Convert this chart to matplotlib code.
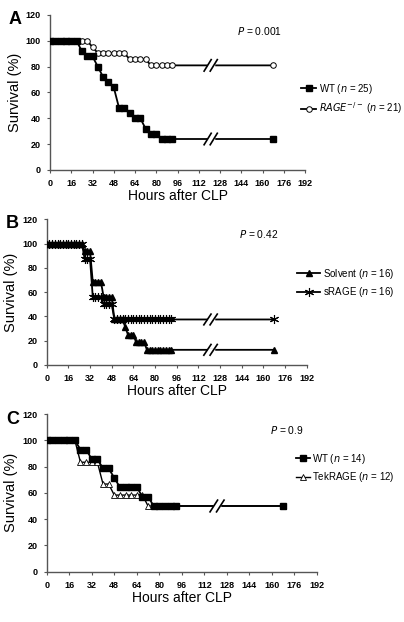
import numpy as np
import matplotlib
matplotlib.use("Agg")
import matplotlib.pyplot as plt

plt.rcParams['font.family'] = ['Liberation Sans', 'DejaVu Sans']

# panel A: WT vs RAGE-/- (every 4 h to 92 h, then 168 h)
t_a = [0, 4, 8, 12, 16, 20, 24, 28, 32, 36, 40, 44, 48, 52, 56, 60, 64, 68, 72, 76, 80, 84, 88, 92, 168]
wt_a = [100, 100, 100, 100, 100, 100, 92, 88, 88, 80, 72, 68, 64, 48, 48, 44, 40, 40, 32, 28, 28, 24, 24, 24, 24]
rage_a = [100, 100, 100, 100, 100, 100, 100, 100, 95.2, 90.5, 90.5, 90.5, 90.5, 90.5, 90.5, 85.7, 85.7, 85.7, 85.7,
          81.0, 81.0, 81.0, 81.0, 81.0, 81.0]

# panel B: solvent vs sRAGE (every 2 h to 92 h, then 168 h)
t_b = [0, 2, 4, 6, 8, 10, 12, 14, 16, 18, 20, 22, 24, 26, 28, 30, 32, 34, 36, 38, 40, 42, 44, 46, 48,
       50, 52, 54, 56, 58, 60, 62, 64, 66, 68, 70, 72, 74, 76, 78, 80, 82, 84, 86, 88, 90, 92, 168]
solvent_b = [100] * 14 + [93.75, 93.75, 93.75, 68.75, 68.75, 68.75, 68.75, 56.25, 56.25, 56.25, 56.25,
                          37.5, 37.5, 37.5, 37.5, 31.25, 25, 25, 25, 18.75, 18.75, 18.75, 18.75,
                          12.5, 12.5, 12.5, 12.5, 12.5, 12.5, 12.5, 12.5, 12.5, 12.5, 12.5]
srage_b = [100] * 14 + [87.5, 87.5, 87.5, 56.25, 56.25, 56.25, 56.25, 50, 50, 50, 50] + [37.5] * 23

# panel C: WT vs TekRAGE (every 4 h to 92 h, then 168 h)
t_c = t_a
wt_c = [100, 100, 100, 100, 100, 100, 92.9, 92.9, 85.7, 85.7, 78.6, 78.6, 71.4, 64.3, 64.3, 64.3, 64.3,
        57.1, 57.1, 50, 50, 50, 50, 50, 50]
tek_c = [100, 100, 100, 100, 100, 100, 83.3, 83.3, 83.3, 83.3, 66.7, 66.7, 58.3, 58.3, 58.3, 58.3, 58.3,
         58.3, 50, 50, 50, 50, 50, 50, 50]

x_ticks = [0, 16, 32, 48, 64, 80, 96, 112, 128, 144, 160, 176, 192]
y_ticks = [0, 20, 40, 60, 80, 100, 120]
break_x = 121

W, H = 404, 622
fig = plt.figure(figsize=(W / 100, H / 100), dpi=100)


def px_axes(l, r, t, b):
    return fig.add_axes([l / W, 1 - b / H, (r - l) / W, (b - t) / H])


def style(ax):
    ax.set_xlim(0, 192)
    ax.set_ylim(0, 120)
    ax.set_xticks(x_ticks)
    ax.set_yticks(y_ticks)
    for s in ['top', 'right']:
        ax.spines[s].set_visible(False)
    for s in ['left', 'bottom']:
        ax.spines[s].set_color('#555555')
        ax.spines[s].set_linewidth(1.0)
    ax.tick_params(length=2.5, width=0.8, colors='#555555', labelcolor='black', labelsize=6.5, pad=4)
    for lab in ax.get_xticklabels() + ax.get_yticklabels():
        lab.set_fontweight('bold')
    ax.set_xlabel('Hours after CLP', fontsize=10, labelpad=1)
    ax.set_ylabel('Survival (%)', fontsize=10.5, labelpad=3)


def add_break(ax, levels):
    for lv in levels:
        ax.plot([break_x - 1.5, break_x + 1.5], [lv, lv], color='white', lw=2.5, zorder=4)
        for dx in (-2.3, 2.3):
            ax.plot([break_x + dx - 3, break_x + dx + 3], [lv - 5, lv + 5], color='black', lw=1.2,
                    solid_capstyle='butt', zorder=5)


lw = 1.3
leg_kw = dict(bbox_transform=fig.transFigure, frameon=False, fontsize=7.0, handletextpad=0.3,
              labelspacing=0.5, borderaxespad=0, loc='center left')

# ---- A
axA = px_axes(50, 305, 15, 170)
axA.plot(t_a, rage_a, '-o', color='black', mfc='white', mec='black', ms=4, mew=0.7, lw=lw,
         label='$\\it{RAGE}^{-/-}$ ($\\it{n}$ = 21)', zorder=2)
axA.plot(t_a, wt_a, '-s', color='black', ms=4, lw=lw, label='WT ($\\it{n}$ = 25)', zorder=3)
style(axA)
add_break(axA, [rage_a[-1], wt_a[-1]])
axA.text(0.91, 0.897, '$\\it{P}$ = 0.001', transform=axA.transAxes, ha='right', va='center', fontsize=7.4)
h, l = axA.get_legend_handles_labels()
axA.legend(h[::-1], l[::-1], bbox_to_anchor=(297 / W, 1 - 99 / H), handlelength=1.6, **leg_kw)
fig.text(9 / W, 1 - 19 / H, 'A', fontsize=13, fontweight='bold', va='center', ha='left')

# ---- B
axB = px_axes(46.7, 306.7, 219.3, 365)
axB.plot(t_b, solvent_b, '-^', color='black', ms=4, lw=lw, label='Solvent ($\\it{n}$ = 16)', zorder=3)
axB.plot(t_b, srage_b, '-', marker=(6, 2, 0), color='black', ms=6.5, mew=0.8, lw=lw,
         label='sRAGE ($\\it{n}$ = 16)', zorder=2)
style(axB)
add_break(axB, [srage_b[-1], solvent_b[-1]])
axB.text(0.89, 0.9, '$\\it{P}$ = 0.42', transform=axB.transAxes, ha='right', va='center', fontsize=7.4)
axB.legend(bbox_to_anchor=(293 / W, 1 - 283 / H), handlelength=2.4, **leg_kw)
fig.text(6 / W, 1 - 224 / H, 'B', fontsize=13, fontweight='bold', va='center', ha='left')

# ---- C
axC = px_axes(46.7, 317, 414, 571.7)
axC.plot(t_c, tek_c, '-^', color='black', mfc='white', mec='black', ms=3.8, mew=0.6, lw=1.0,
         label='TekRAGE ($\\it{n}$ = 12)', zorder=2)
axC.plot(t_c, wt_c, '-s', color='black', ms=3.8, lw=lw, label='WT ($\\it{n}$ = 14)', zorder=3)
style(axC)
add_break(axC, [wt_c[-1]])
axC.text(0.95, 0.9, '$\\it{P}$ = 0.9', transform=axC.transAxes, ha='right', va='center', fontsize=7.4)
h, l = axC.get_legend_handles_labels()
axC.legend(h[::-1], l[::-1], bbox_to_anchor=(292 / W, 1 - 468 / H), handlelength=1.4, **leg_kw)
fig.text(6 / W, 1 - 419 / H, 'C', fontsize=13, fontweight='bold', va='center', ha='left')

fig.savefig('out.png', dpi=100)
